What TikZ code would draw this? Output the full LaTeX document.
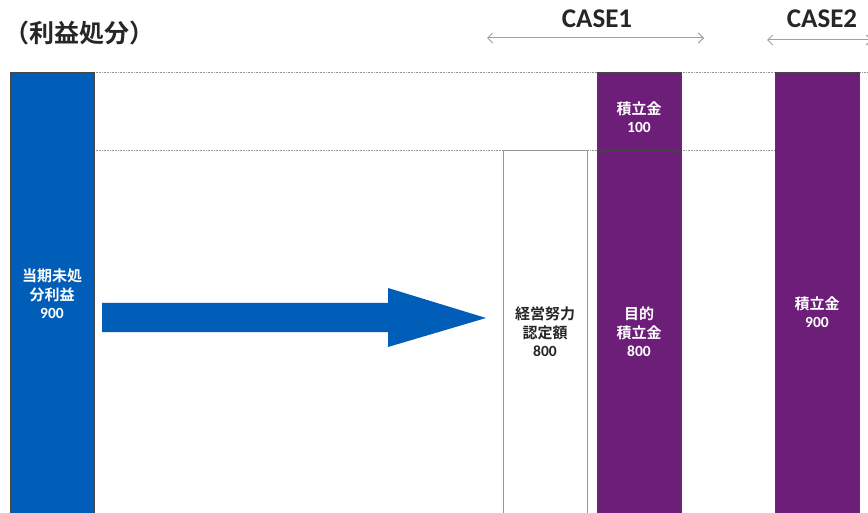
\documentclass[tikz,border=0pt]{standalone}
\usepackage{fontspec}
\setmainfont{Carlito}
\newfontfamily\jp{Noto Sans CJK JP}[BoldFont={* Bold}]
\usetikzlibrary{arrows.meta}
\definecolor{barblue}{RGB}{0,94,184}
\definecolor{barpurple}{RGB}{108,30,120}
\definecolor{rimgray}{RGB}{70,70,70}
\definecolor{guidegray}{RGB}{150,150,150}
\definecolor{spangray}{RGB}{160,160,160}
\newcommand{\jpl}[1]{{\jp\bfseries\fontsize{15}{18.5}\selectfont #1}}
\tikzset{
  bar/.style={draw=rimgray, line width=0.8pt, minimum width=84pt, inner sep=0pt, anchor=north},
  bartext/.style={text=white, font=\bfseries\fontsize{15.5}{18.5}\selectfont, align=center},
  darktext/.style={text=black!85, font=\bfseries\fontsize{15.5}{18.5}\selectfont, align=center},
  guide/.style={draw=guidegray, line width=0.6pt, densely dotted},
  span/.style={draw=spangray, line width=1pt, {Straight Barb[length=5pt,width=10pt]}-{Straight Barb[length=5pt,width=10pt]}},
  caselabel/.style={font=\bfseries\fontsize{27}{30}\selectfont, text=black!85}
}
\begin{document}
\begin{tikzpicture}[x=1pt,y=-1pt]
\clip (0,0) rectangle (868,513);
\fill[white] (0,0) rectangle (868,513);

% heading
\node[anchor=west, font=\jp\bfseries\fontsize{25}{28}\selectfont, text=black!85, inner sep=0pt] (title) at (4,33) {（利益処分）};

% guide lines
\coordinate (g1a) at (94,72);
\coordinate (g1b) at (868,72);
\coordinate (g2a) at (94,150);
\coordinate (g2b) at (775,150);
\draw[guide] (g1a) -- (g1b);
\draw[guide] (g2a) -- (g2b);

% bars
\node[bar, fill=barblue, minimum height=460pt] (profit) at (52,72) {};
\node[bar, fill=white, draw=guidegray, minimum height=380pt] (effort) at (545,150) {};
\node[bar, fill=barpurple, minimum height=78pt] (res1) at (639,72) {};
\node[bar, fill=barpurple, minimum height=380pt] (goal) at (639,150) {};
\node[bar, fill=barpurple, minimum height=460pt] (res2) at (817,72) {};

% bar labels
\node[bartext] at (52,294) {\jpl{当期未処}\\\jpl{分利益}\\900};
\node[darktext] at (545,332) {\jpl{経営努力}\\\jpl{認定額}\\800};
\node[bartext] at (639,117) {\jpl{積立金}\\100};
\node[bartext] at (639,332) {\jpl{目的}\\\jpl{積立金}\\800};
\node[bartext] at (817,312) {\jpl{積立金}\\900};

% transfer arrow
\fill[barblue] (102,303) -- (388,303) -- (388,288) -- (486,318) -- (388,347) -- (388,332) -- (102,332) -- cycle;

% case spans
\node[caselabel] (case1) at (597,19) {CASE1};
\node[caselabel] (case2) at (822,19) {CASE2};
\coordinate (c1l) at (487,38);
\coordinate (c1r) at (704,38);
\coordinate (c2l) at (767,40);
\coordinate (c2r) at (872,40);
\draw[span] (c1l) -- (c1r);
\draw[span] (c2l) -- (c2r);
\end{tikzpicture}
\end{document}
